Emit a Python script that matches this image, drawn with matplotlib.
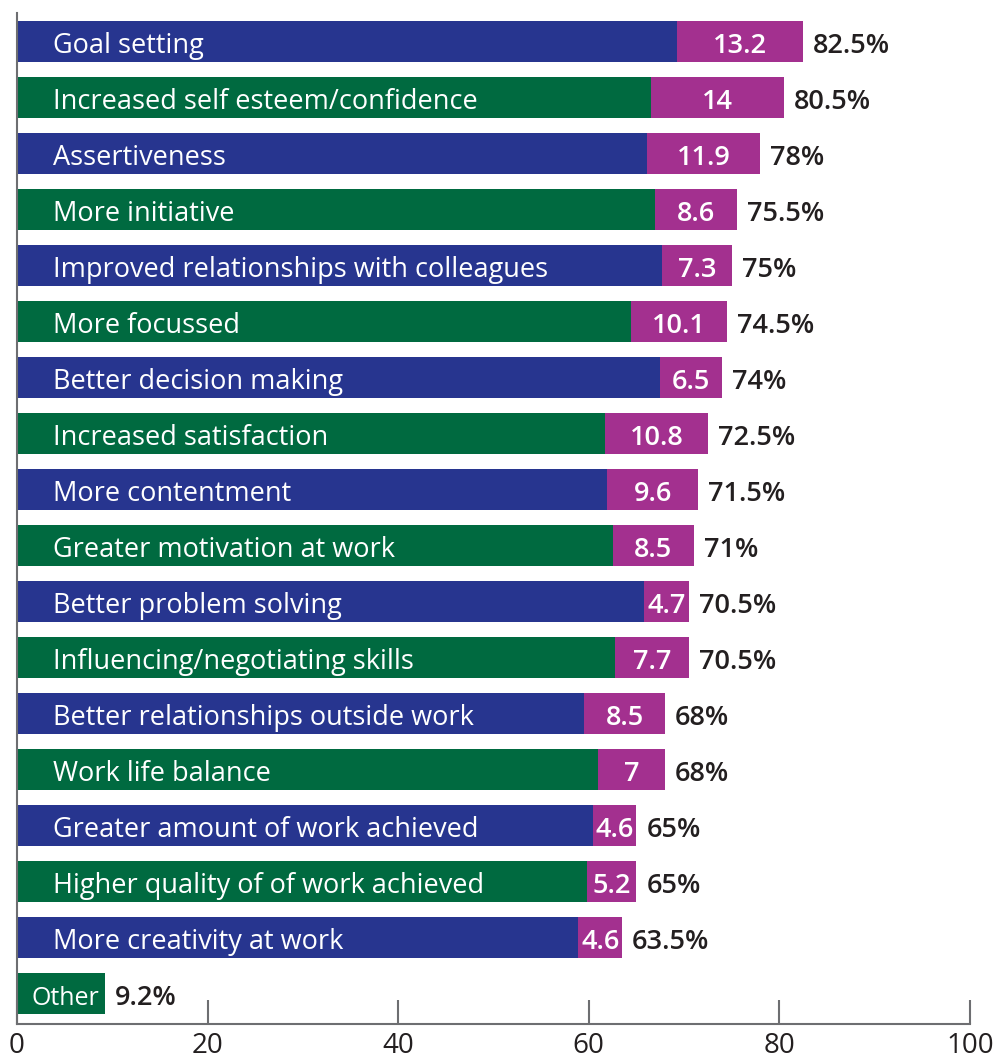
import numpy as np
import matplotlib
matplotlib.use("Agg")
from matplotlib import pyplot as plt

plt.rcParams['font.family'] = ['Open Sans', 'DejaVu Sans']

labels = ["Goal setting", "Increased self esteem/confidence", "Assertiveness",
          "More initiative", "Improved relationships with colleagues",
          "More focussed", "Better decision making", "Increased satisfaction",
          "More contentment", "Greater motivation at work",
          "Better problem solving", "Influencing/negotiating skills",
          "Better relationships outside work", "Work life balance",
          "Greater amount of work achieved", "Higher quality of of work achieved",
          "More creativity at work", "Other"]
totals = [82.5, 80.5, 78, 75.5, 75, 74.5, 74, 72.5, 71.5, 71, 70.5, 70.5,
          68, 68, 65, 65, 63.5, 9.2]
extra = [13.2, 14, 11.9, 8.6, 7.3, 10.1, 6.5, 10.8, 9.6, 8.5, 4.7, 7.7,
         8.5, 7, 4.6, 5.2, 4.6, 0]
total_text = ["82.5%", "80.5%", "78%", "75.5%", "75%", "74.5%", "74%", "72.5%",
              "71.5%", "71%", "70.5%", "70.5%", "68%", "68%", "65%", "65%",
              "63.5%", "9.2%"]
extra_text = ["13.2", "14", "11.9", "8.6", "7.3", "10.1", "6.5", "10.8", "9.6",
              "8.5", "4.7", "7.7", "8.5", "7", "4.6", "5.2", "4.6", ""]

BLUE = "#27358f"
GREEN = "#006a40"
MAGENTA = "#a3308f"
DARK = "#231f20"
GREY = "#6d6e71"

totals = np.array(totals, dtype=float)
extra = np.array(extra, dtype=float)
base = totals - extra
y = np.arange(len(labels))
cols = [BLUE if i % 2 == 0 else GREEN for i in range(len(labels))]

fig = plt.figure(figsize=(9.93, 10.59), dpi=100)
ax = fig.add_axes([17 / 993, 35 / 1059, 953 / 993, 1011 / 1059])

ax.barh(y, base, height=0.73, color=cols, linewidth=0)
ax.barh(y, extra, left=base, height=0.73, color=MAGENTA, linewidth=0)

# baseline sits ~0.2 bar-steps below the centre
for i in range(len(labels)):
    yb = y[i] + 0.2
    if labels[i] == "Other":
        ax.text(1.5, yb, labels[i], color="white", fontsize=18,
                va="baseline", ha="left")
    else:
        ax.text(3.8, yb, labels[i], color="white", fontsize=19.5,
                va="baseline", ha="left")
    if extra[i] > 0:
        ax.text(base[i] + extra[i] / 2, yb, extra_text[i], color="white",
                fontsize=19.5, fontweight="semibold", va="baseline", ha="center")
    ax.annotate(total_text[i], (totals[i], yb), xytext=(10, 0),
                textcoords="offset pixels",
                color=DARK, fontsize=19.5, fontweight="semibold",
                va="baseline", ha="left")

ax.set_xlim(0, 100)
ax.set_ylim(17.54, -0.51)
ax.set_yticks([])
ax.set_xticks([0, 20, 40, 60, 80, 100])
ax.tick_params(axis="x", direction="in", length=17, width=1.5, color=GREY,
               labelsize=20, labelcolor=DARK, pad=6)
for s in ["top", "right"]:
    ax.spines[s].set_visible(False)
ax.spines["left"].set_color(GREY)
ax.spines["left"].set_linewidth(1.5)
ax.spines["bottom"].set_color(GREY)
ax.spines["bottom"].set_linewidth(1.5)

fig.savefig("out.png", dpi=100)
